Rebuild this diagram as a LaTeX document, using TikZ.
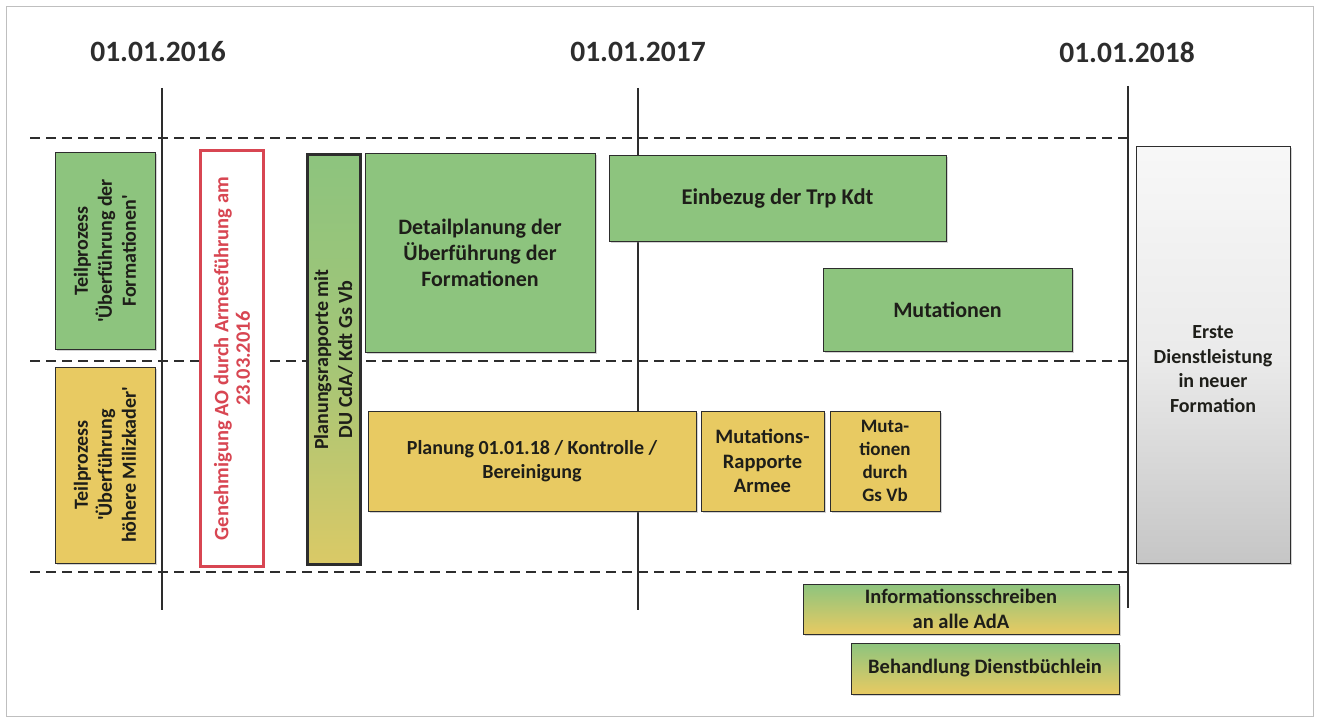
\documentclass[tikz,border=0pt]{standalone}
\usepackage{fontspec}
\setmainfont{Carlito}
\usetikzlibrary{shadows}
\definecolor{boxgreen}{RGB}{141,196,126}
\definecolor{boxyellow}{RGB}{232,202,98}
\definecolor{redc}{RGB}{216,70,82}
\definecolor{linec}{RGB}{45,45,45}
\definecolor{txt}{RGB}{30,30,25}
\newcommand\bfsz[2]{\bfseries\fontsize{#1}{#2}\selectfont}
\newcommand\sq{\textquotesingle}
\begin{document}
\begin{tikzpicture}[x=1pt,y=-1pt,
  base/.style={draw=linec, line width=1pt, font=\bfsz{20}{24},
    align=center, text=txt, inner sep=2pt,
    drop shadow={shadow xshift=1.5pt, shadow yshift=-1.5pt, opacity=0.35}},
  gbox/.style={base, fill=boxgreen},
  ybox/.style={base, fill=boxyellow},
  gybox/.style={base, top color=boxgreen, bottom color=boxyellow},
  datelab/.style={font=\bfsz{29.5}{31}, text=linec},
  vline/.style={linec, line width=2pt},
  dline/.style={linec, line width=2.5pt, dash pattern=on 10pt off 6pt}
]
\useasboundingbox (0,0) rectangle (1319,722);
\draw[gray!50, line width=0.8pt] (6,6) rectangle (1313,716);

% dates
\node[datelab] (d16) at (158,52) {01.01.2016};
\node[datelab] (d17) at (638,52) {01.01.2017};
\node[datelab] (d18) at (1127,52) {01.01.2018};

% vertical lines
\coordinate (v16a) at (162,88);  \coordinate (v16b) at (162,610);
\coordinate (v17a) at (638,88);  \coordinate (v17b) at (638,610);
\coordinate (v18a) at (1128,86); \coordinate (v18b) at (1128,608);
\draw[vline] (v16a) -- (v16b);
\draw[vline] (v17a) -- (v17b);
\draw[vline] (v18a) -- (v18b);

% dashed lines
\coordinate (h1a) at (30,138); \coordinate (h1b) at (1128,138);
\coordinate (h2a) at (30,361); \coordinate (h2b) at (1128,361);
\coordinate (h3a) at (30,572); \coordinate (h3b) at (1128,572);
\draw[dline] (h1a) -- (h1b);
\draw[dline] (h2a) -- (h2b);
\draw[dline] (h3a) -- (h3b);

% left column
\node[gbox, font=\bfsz{20}{24}, rotate=90, minimum width=196pt, minimum height=100pt] (teilA) at (105,251)
  {Teilprozess\\\sq Überführung der\\Formationen\sq};
\node[ybox, font=\bfsz{20}{24}, rotate=90, minimum width=196pt, minimum height=100pt] (teilB) at (105,465)
  {Teilprozess\\\sq Überführung\\höhere Milizkader\sq};

% approval
\node[draw=redc, line width=3.5pt, fill=white, rotate=90, text=redc, align=center,
  font=\bfsz{20.5}{21.5},
  minimum width=416pt, minimum height=63pt] (genehm) at (232,358.5)
  {Genehmigung AO durch Armeeführung am\\23.03.2016};

% planning reports
\node[draw=linec, line width=3pt, rotate=90, align=center, text=txt,
  font=\bfsz{20}{24},
  top color=boxgreen, bottom color=boxyellow!85!boxgreen, middle color=boxgreen!75!boxyellow,
  minimum width=409pt, minimum height=53pt] (plan) at (333.5,359.5)
  {Planungsrapporte mit\\DU CdA/ Kdt Gs Vb};

% upper lane
\node[gbox, font=\bfsz{22}{26}, minimum width=230pt, minimum height=198pt] (detail) at (480,253)
  {Detailplanung der\\Überführung der\\Formationen};
\node[gbox, font=\bfsz{22.5}{26}, minimum width=337pt, minimum height=85pt] (einbezug) at (777.5,198.5)
  {Einbezug der Trp Kdt};
\node[gbox, font=\bfsz{22}{26}, minimum width=249pt, minimum height=83pt] (mutationen) at (947.5,309.5)
  {Mutationen};

% lower lane
\node[ybox, font=\bfsz{20}{23.5}, minimum width=328pt, minimum height=100pt] (planung) at (532,461)
  {Planung 01.01.18 / Kontrolle /\\Bereinigung};
\node[ybox, font=\bfsz{20.5}{24.5}, minimum width=123pt, minimum height=100pt] (mutrap) at (762.5,461)
  {Mutations-\\Rapporte\\Armee};
\node[ybox, font=\bfsz{19}{23}, minimum width=110pt, minimum height=100pt] (mutdurch) at (885,461)
  {Muta-\\tionen\\durch\\Gs Vb};

% final service
\node[base, top color=gray!6, bottom color=gray!45, middle color=gray!16,
  minimum width=154pt, minimum height=416pt,
  label={[align=center, font=\bfsz{20}{24.5}, text=txt, yshift=-14pt]center:Erste\\Dienstleistung\\in neuer\\Formation}] (erste) at (1213,355) {};

% bottom bars
\node[gybox, font=\bfsz{20.5}{25}, minimum width=316pt, minimum height=50pt] (info) at (961,609)
  {Informationsschreiben\\an alle AdA};
\node[gybox, font=\bfsz{20.5}{25}, minimum width=268pt, minimum height=51pt] (dienstb) at (985,668.5)
  {Behandlung Dienstbüchlein};
\end{tikzpicture}
\end{document}
